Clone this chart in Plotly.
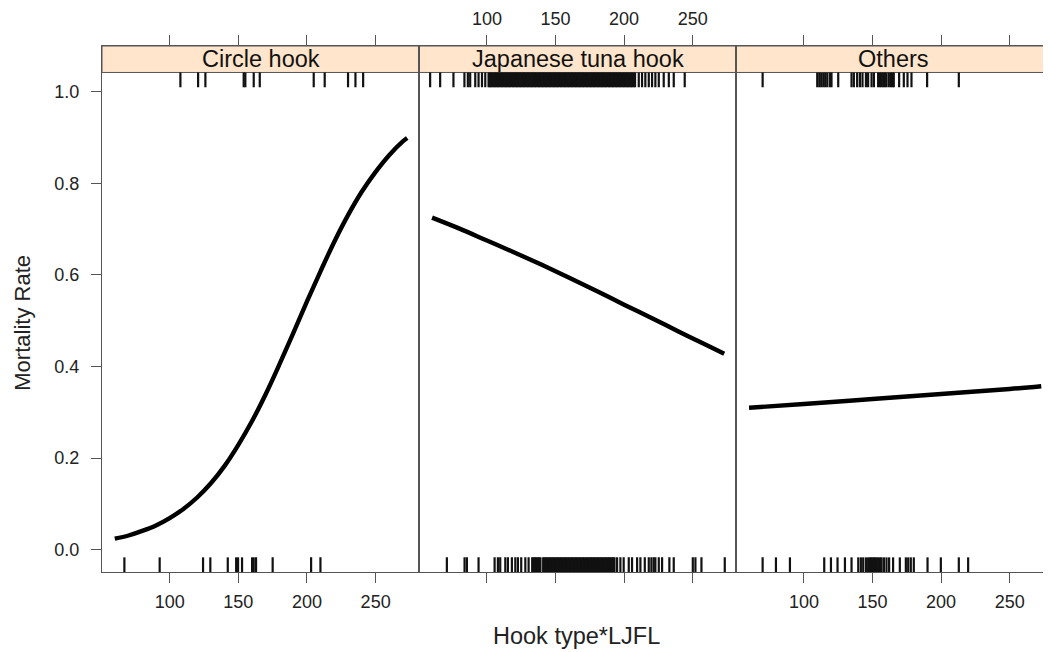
import plotly.graph_objects as go
from plotly.subplots import make_subplots

# ---------------- data ----------------
hook_types = ["Circle hook", "Japanese tuna hook", "Others"]
x_title = "Hook type*LJFL"
y_title = "Mortality Rate"
x_ticks = [100, 150, 200, 250]
y_ticks = [0.0, 0.2, 0.4, 0.6, 0.8, 1.0]
y_ticktext = ["0.0", "0.2", "0.4", "0.6", "0.8", "1.0"]

# fitted mortality curves
ljfl_circle = [60, 70, 80, 90, 100, 110, 120, 130, 140, 150, 160, 170, 180, 190,
               200, 210, 220, 230, 240, 250, 260, 270, 273]
mort_circle = [0.024, 0.031, 0.041, 0.053, 0.069, 0.089, 0.114, 0.145, 0.183, 0.229,
               0.281, 0.340, 0.405, 0.473, 0.542, 0.609, 0.673, 0.731, 0.782, 0.825,
               0.862, 0.892, 0.899]

ljfl_japan = [60, 80, 100, 120, 140, 160, 180, 200, 220, 240, 260, 273]
mort_japan = [0.725, 0.701, 0.675, 0.649, 0.622, 0.594, 0.565, 0.535, 0.506, 0.476,
              0.447, 0.428]

ljfl_others = [60, 100, 150, 200, 250, 273]
mort_others = [0.310, 0.318, 0.329, 0.340, 0.351, 0.357]

# rug marks: observed lengths of dead (top) and alive (bottom) fish
rug_circle_dead = [107.8, 120.7, 126.0, 153.9, 155.1, 161.2, 165.6, 204.9, 212.9,
                   229.9, 235.3, 240.9]
rug_circle_alive = [67.0, 92.7, 124.3, 129.6, 142.3, 148.4, 149.8, 152.7, 160.0, 161.2,
                    162.9, 175.0, 203.0, 209.8]

rug_japan_dead = [58.6, 65.9, 75.6, 83.6, 86.1, 87.8, 91.5, 93.9, 96.4, 98.8, 101.2,
                  102, 103, 104, 105, 106, 107, 108, 109, 110, 111, 112, 113, 114, 115,
                  116, 117, 118, 119, 120, 121, 122, 123, 124, 125, 126, 127, 128, 129,
                  130, 131, 132, 133, 134, 135, 136, 137, 138, 139, 140, 141, 142, 143,
                  144, 145, 146, 147, 148, 149, 150, 151, 152, 153, 154, 155, 156, 157,
                  158, 159, 160, 161, 162, 163, 164, 165, 166, 167, 168, 169, 170, 171,
                  172, 173, 174, 175, 176, 177, 178, 179, 180, 181, 182, 183, 184, 185,
                  186, 187, 188, 189, 190, 191, 192, 193, 194, 195, 196, 197, 198, 199,
                  200, 201, 202, 203, 204, 205, 206, 207, 208,
                  210.7, 213.1, 215.5, 218.0, 220.4, 222.8, 225.3, 228.9, 232.6, 236.2,
                  244.2]
rug_japan_alive = [70.8, 83.7, 85.4, 93.9, 105.6, 108.0, 109.7, 113.4, 115.3, 118.2,
                   120.7, 122.6, 125.0, 128.0, 130.4,
                   133, 134, 135, 136, 137, 138, 139, 141, 142, 143, 144, 145, 146, 147,
                   148, 149, 150, 151, 152, 153, 154, 155, 156, 157, 158, 159, 160, 161,
                   162, 163, 164, 165, 166, 167, 168, 169, 170, 171, 172, 173, 174, 175,
                   176, 177, 178, 179, 180, 181, 182, 183, 184, 185, 186, 187, 188, 189,
                   190, 191, 192, 193,
                   194.9, 197.3, 199.7, 203.4, 205.8, 209.5, 211.9, 215.1, 218.0, 219.9,
                   221.6, 222.8, 225.3, 227.7, 233.0, 236.2, 250.1, 252.0, 256.4, 273.4]

rug_others_dead = [69.9, 109.7, 111.2, 112.6, 114.1, 115.5, 117.0, 118.9, 120.1, 125.0,
                   134.7, 136.4, 138.8, 140.8, 142.7, 145.2, 146.8, 149.3, 151.0, 154.1,
                   155.4, 156.6, 157.8, 159.0, 160.2, 161.9, 163.4, 164.6, 165.5, 169.4,
                   172.8, 175.5, 178.4, 189.8, 212.9]
rug_others_alive = [69.9, 79.6, 89.8, 114.8, 119.7, 124.5, 129.9, 134.7, 139.6, 141.5,
                    143.2, 145.2, 146.8, 148.1, 149.0, 150.0, 151.0, 152.0, 153.0, 154.1,
                    155.4, 156.6, 158.3, 160.2, 162.1, 165.0, 169.9, 174.3, 176.0, 177.9,
                    180.1, 190.1, 199.8, 212.9, 219.7]

# ---------------- layout constants ----------------
Y_LO, Y_HI = -0.0487, 1.0998        # y range incl. strip
STRIP_LO = 1.042                    # panel top / strip bottom
RUG_LEN = 0.0320
X_RANGE = [50.7, 281.8]
X_RANGE_LAST = [50.7, 280.1]
AX_COL = "#555555"
TXT_COL = "#222222"
RUG_COL = "#111111"
FONT = "Liberation Sans, Arial, sans-serif"

curves = [(ljfl_circle, mort_circle), (ljfl_japan, mort_japan), (ljfl_others, mort_others)]
rugs = [(rug_circle_dead, rug_circle_alive), (rug_japan_dead, rug_japan_alive),
        (rug_others_dead, rug_others_alive)]

fig = make_subplots(rows=1, cols=3, horizontal_spacing=0)


def rug_xy(vals, y0, y1):
    xs, ys = [], []
    for v in vals:
        xs += [v, v, None]
        ys += [y0, y1, None]
    return xs, ys


for i, ((cx, cy), (dead, alive)) in enumerate(zip(curves, rugs)):
    col = i + 1
    xs, ys = rug_xy(dead, STRIP_LO, STRIP_LO - RUG_LEN)
    fig.add_trace(go.Scatter(x=xs, y=ys, mode="lines",
                             line=dict(color=RUG_COL, width=2.2),
                             hoverinfo="skip"), row=1, col=col)
    xs, ys = rug_xy(alive, Y_LO, Y_LO + RUG_LEN)
    fig.add_trace(go.Scatter(x=xs, y=ys, mode="lines",
                             line=dict(color=RUG_COL, width=2.2),
                             hoverinfo="skip"), row=1, col=col)
    fig.add_trace(go.Scatter(x=cx, y=cy, mode="lines",
                             line=dict(color="black", width=4.4, shape="spline"),
                             hoverinfo="skip"), row=1, col=col)

# plot area 949 px wide (page x 102..1051); panels ~317 px each
domains = [[0, 0.33435], [0.33435, 0.66838], [0.66838, 1.0]]
for i in range(3):
    xa = dict(domain=domains[i], range=X_RANGE if i < 2 else X_RANGE_LAST,
              showline=True, linecolor=AX_COL, linewidth=1, mirror="ticks",
              ticks="outside", ticklen=10, tickwidth=1, tickcolor=AX_COL,
              tickvals=x_ticks, showgrid=False, zeroline=False,
              side="top" if i == 1 else "bottom",
              tickfont=dict(family=FONT, size=18, color=TXT_COL),
              ticklabelstandoff=3)
    fig.update_layout(**{("xaxis" if i == 0 else f"xaxis{i+1}"): xa})
    ya = dict(range=[Y_LO, Y_HI], showline=True, linecolor=AX_COL, linewidth=1,
              mirror=(i < 2), showgrid=False, zeroline=False)
    if i == 0:
        ya.update(ticks="outside", ticklen=10, tickwidth=1, tickcolor=AX_COL,
                  tickvals=y_ticks, ticktext=y_ticktext,
                  tickfont=dict(family=FONT, size=18, color=TXT_COL),
                  ticklabelstandoff=8)
    else:
        ya.update(ticks="", showticklabels=False)
    fig.update_layout(**{("yaxis" if i == 0 else f"yaxis{i+1}"): ya})

    xref = "x domain" if i == 0 else f"x{i+1} domain"
    yref = "y" if i == 0 else f"y{i+1}"
    fig.add_shape(type="rect", xref=xref, yref=yref, x0=0, x1=1, y0=STRIP_LO, y1=Y_HI,
                  fillcolor="#ffe5cc", line=dict(color=AX_COL, width=1), layer="below")
    fig.add_annotation(xref=xref, yref=yref, x=0.5, y=(STRIP_LO + Y_HI) / 2,
                       text=hook_types[i], showarrow=False,
                       font=dict(family=FONT, size=23.5, color="#111111"),
                       xanchor="center", yanchor="middle")

fig.add_annotation(xref="paper", yref="paper", x=0.5, y=-0.121, text=x_title,
                   showarrow=False, xanchor="center", yanchor="middle",
                   font=dict(family=FONT, size=23.5, color=TXT_COL))
fig.add_annotation(xref="paper", yref="paper", x=-0.0832, y=0.474, text=y_title,
                   showarrow=False, xanchor="center", yanchor="middle", textangle=-90,
                   font=dict(family=FONT, size=22, color=TXT_COL))

# the page body adds an 8 px offset, so the figure is 8 px smaller on each axis
fig.update_layout(width=1043, height=644, margin=dict(l=94, r=0, t=38, b=80),
                  plot_bgcolor="white", paper_bgcolor="white", showlegend=False)

fig.write_html("out.html")
